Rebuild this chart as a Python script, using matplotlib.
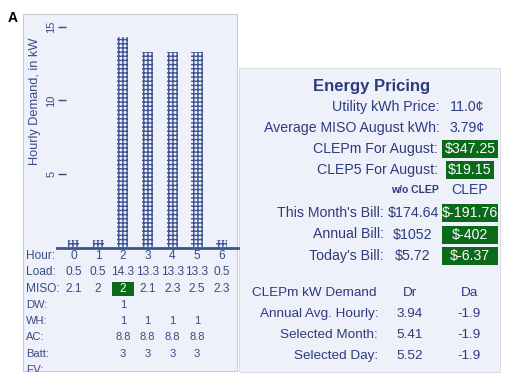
import matplotlib.pyplot as plt
import matplotlib.transforms as mtransforms
from matplotlib.patches import Rectangle

hours = [0, 1, 2, 3, 4, 5, 6]
load = [0.5, 0.5, 14.3, 13.3, 13.3, 13.3, 0.5]
miso = ["2.1", "2", "2", "2.1", "2.3", "2.5", "2.3"]
dw = ["", "", "1", "", "", "", ""]
wh = ["", "", "1", "1", "1", "1", ""]
ac = ["", "", "8.8", "8.8", "8.8", "8.8", ""]
batt = ["", "", "3", "3", "3", "3", ""]
ev = ["", "", "", "", "", "", ""]
selected_hour = 2

price_labels = ["Utility kWh Price:", "Average MISO August kWh:"]
price_values = ["11.0\u00a2", "3.79\u00a2"]
clep_labels = ["CLEPm For August:", "CLEP5 For August:"]
clep_values = ["$347.25", "$19.15"]
bill_labels = ["This Month's Bill:", "Annual Bill:", "Today's Bill:"]
bill_without = ["$174.64", "$1052", "$5.72"]
bill_with = ["$-191.76", "$-402", "$-6.37"]
demand_labels = ["Annual Avg. Hourly:", "Selected Month:", "Selected Day:"]
demand_dr = ["3.94", "5.41", "5.52"]
demand_da = ["-1.9", "-1.9", "-1.9"]

navy = "#2e3b7d"
tab = "#3b4a86"
bar_col = "#3d5391"
green = "#0b6a1a"
panel = "#eef1f9"

plt.rcParams["font.family"] = ["Liberation Sans", "DejaVu Sans"]
plt.rcParams["hatch.linewidth"] = 1.0

fig = plt.figure(figsize=(5.14, 3.82), dpi=100)

# background axes in pixel units (y down)
bg = fig.add_axes([0, 0, 1, 1])
bg.set_xlim(0, 514)
bg.set_ylim(382, 0)
bg.axis("off")

bg.add_patch(Rectangle((23, 14), 214, 357, fc=panel, ec="#c9ccd4", lw=0.8))
bg.add_patch(Rectangle((239, 68), 261, 304, fc=panel, ec="#d4d7de", lw=0.6))
bg.text(8, 18, "A", fontsize=10, fontweight="bold", color="black", va="center")

# bar chart
ax = fig.add_axes([66 / 514, (382 - 247) / 382, (237 - 66) / 514, (247 - 14) / 382])
ax.patch.set_visible(False)
ax.set_xlim(-0.30, 6.62)
ax.set_ylim(0, 15.89)
for s in ax.spines.values():
    s.set_visible(False)
ax.bar(hours, load, width=0.45, facecolor="none", edgecolor=bar_col,
       hatch="++++", lw=0)
ax.set_xticks([])
ax.set_yticks([5, 10, 15])
ax.set_yticklabels(["5", "10", "15"], rotation=90, va="center", fontsize=8)
ax.tick_params(axis="y", length=6, width=1, color=tab, labelcolor=tab, pad=1)

bg.plot([57, 238], [247.5, 247.5], color=bar_col, lw=2)
bg.text(35, 101, "Hourly Demand, in kW", rotation=90, fontsize=9.2,
        color=tab, ha="center", va="center")

# table under the chart
tr = mtransforms.blended_transform_factory(ax.transData, bg.transData)
rows = [("Hour:", [str(h) for h in hours]),
        ("Load:", [str(v) for v in load]),
        ("MISO:", miso),
        ("DW:", dw),
        ("WH:", wh),
        ("AC:", ac),
        ("Batt:", batt),
        ("EV:", ev)]
row_y0 = 256
row_dy = 16.3
for i, (lab, vals) in enumerate(rows):
    y = row_y0 + i * row_dy
    fs = 8.6 if i < 3 else 8
    bg.text(26, y, lab, fontsize=fs, color=tab, va="center")
    for h, v in zip(hours, vals):
        c = tab
        if lab == "MISO:" and h == selected_hour:
            bg.add_patch(Rectangle((h - 0.45, y - 7), 0.9, 14, fc=green,
                                   ec="none", transform=tr))
            c = "white"
        bg.text(h, y, v, transform=tr, fontsize=fs, color=c,
                ha="center", va="center")
# clip the half-visible EV row at the panel edge
bg.add_patch(Rectangle((20, 372), 220, 12, fc="white", ec="none", zorder=5))

# energy pricing panel
fs_top = 10.2
fs_low = 9.7
bg.text(372, 87, "Energy Pricing", fontsize=12, fontweight="bold",
        color=navy, ha="center", va="center")
for i, (lab, val) in enumerate(zip(price_labels, price_values)):
    y = 107 + i * 21
    bg.text(440, y, lab, fontsize=fs_top, color=navy, ha="right", va="center")
    bg.text(467, y, val, fontsize=fs_top, color=navy, ha="center", va="center")
for i, (lab, val) in enumerate(zip(clep_labels, clep_values)):
    y = 149 + i * 21
    bg.text(438, y, lab, fontsize=fs_top, color=navy, ha="right", va="center")
    bg.text(470, y, val, fontsize=fs_top, color="white", ha="center",
            va="center",
            bbox=dict(boxstyle="square,pad=0.15", fc=green, ec="none"))

bg.text(415, 190, "w/o CLEP", fontsize=7.5, fontweight="bold", color=navy,
        ha="center", va="center")
bg.text(470, 190, "CLEP", fontsize=fs_top, color=navy, ha="center",
        va="center")
for i, lab in enumerate(bill_labels):
    y = 213 + i * 21.5
    bg.text(384, y, lab, fontsize=fs_top, color=navy, ha="right", va="center")
    bg.text(413, y, bill_without[i], fontsize=fs_top, color=navy,
            ha="center", va="center")
    bg.add_patch(Rectangle((442, y - 9), 56, 18, fc=green, ec="none"))
    bg.text(470, y, bill_with[i], fontsize=fs_top, color="white",
            ha="center", va="center")

bg.text(252, 293, "CLEPm kW Demand", fontsize=fs_low, color=navy,
        ha="left", va="center")
bg.text(410, 293, "Dr", fontsize=fs_low, color=navy, ha="center", va="center")
bg.text(469, 293, "Da", fontsize=fs_low, color=navy, ha="center", va="center")
for i, lab in enumerate(demand_labels):
    y = 314 + i * 21
    bg.text(378, y, lab, fontsize=fs_low, color=navy, ha="right", va="center")
    bg.text(410, y, demand_dr[i], fontsize=fs_low, color=navy,
            ha="center", va="center")
    bg.text(469, y, demand_da[i], fontsize=fs_low, color=navy,
            ha="center", va="center")

fig.savefig("out.png", dpi=100)
